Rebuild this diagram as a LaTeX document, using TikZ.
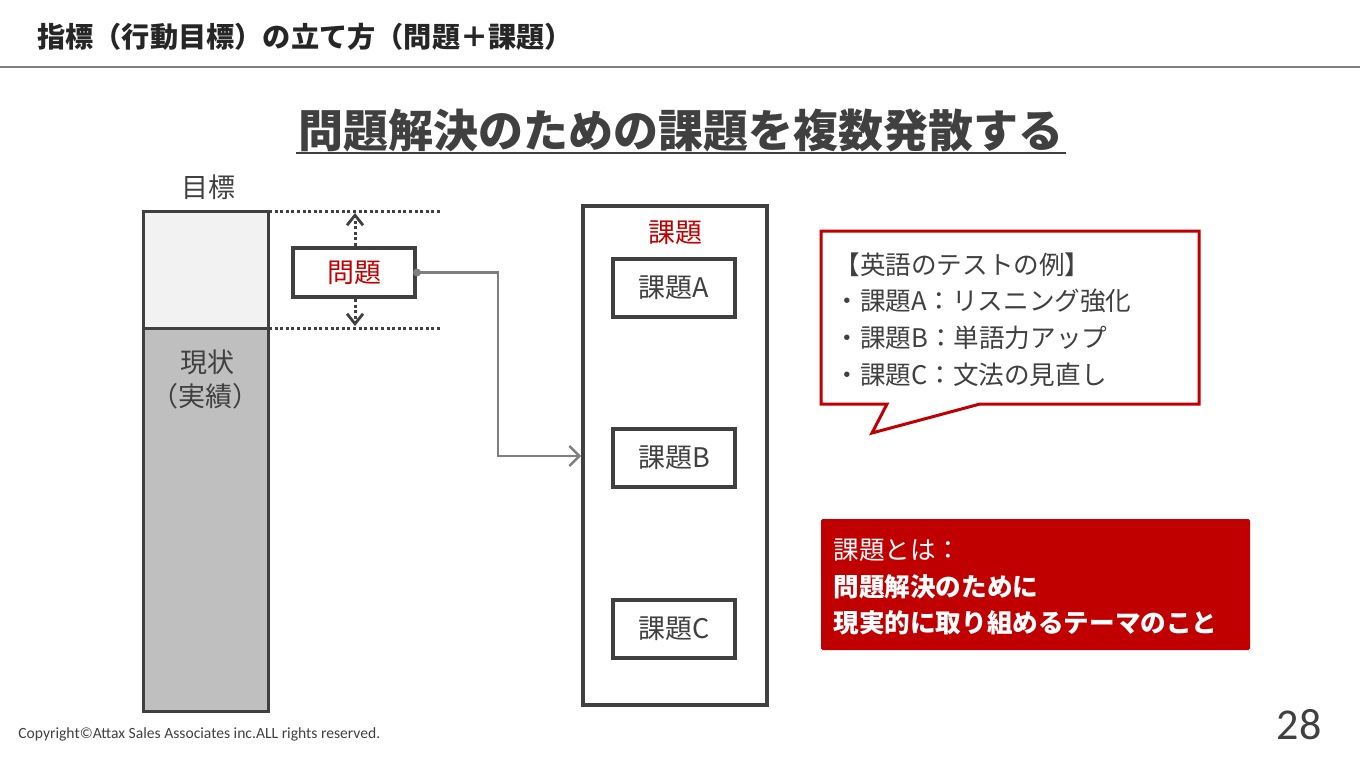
\documentclass[tikz,border=0pt]{standalone}
\usepackage{fontspec}
\setmainfont{Noto Sans CJK JP}
\newfontfamily\cali{Carlito}
\usetikzlibrary{arrows.meta}
\definecolor{dg}{HTML}{404040}
\definecolor{rd}{HTML}{C00000}
\definecolor{cg}{HTML}{7F7F7F}
\definecolor{lf}{HTML}{F2F2F2}
\definecolor{mf}{HTML}{BFBFBF}
\tikzset{
  bx/.style={draw=dg, line width=2pt, fill=white, inner sep=0pt},
  lbl/.style={text=dg, inner sep=0pt, font=\fontsize{13.5}{16}\selectfont},
  btxt/.style={text=dg, inner sep=0pt, anchor=west, font=\fontsize{12.8}{15}\selectfont},
  wtxt/.style={text=white, inner sep=0pt, anchor=west, font=\fontsize{12.8}{15}\selectfont},
  dotl/.style={draw=dg, line width=1.5pt, dash pattern=on 1.5pt off 1.3pt},
  conn/.style={draw=cg, line width=1.3pt, -{Straight Barb[length=5pt,width=10pt,line width=1.3pt]}},
  darr/.style={draw=dg, line width=1.5pt, dash pattern=on 1.5pt off 1.3pt, -{Straight Barb[length=5pt,width=8pt,line width=1.4pt]}}
}
\begin{document}
\begin{tikzpicture}[x=0.5pt,y=-0.5pt]
\useasboundingbox (0,0) rectangle (1360,766);
% header
\node[anchor=west, inner sep=0pt, text=black!85, font=\fontsize{14.1}{16}\selectfont\bfseries] (title) at (37,37) {指標（行動目標）の立て方（問題＋課題）};
\draw[cg, line width=1pt] (0,67) -- (1360,67);
% subtitle
\node[inner sep=0pt, text=dg, font=\fontsize{22.5}{26}\selectfont\bfseries] (sub) at (681,131) {問題解決のための課題を複数発散する};
\draw[dg, line width=1.2pt] (296,153) -- (1066,153);
% bar
\node[lbl] (goal) at (208,187) {目標};
\draw[dg, line width=1.5pt, fill=lf] (143,211) rectangle (268,328);
\draw[dg, line width=1.5pt, fill=mf] (143,328) rectangle (268,711);
\coordinate (bartop) at (269,211);
\coordinate (barmid) at (269,328);
\node[lbl] (now) at (207,362) {現状};
\node[lbl] (perf) at (205,396) {（実績）};
\coordinate (dt) at (442,211);
\coordinate (db) at (442,328);
\draw[dotl] (bartop) -- (dt);
\draw[dotl] (barmid) -- (db);
% problem box
\node[bx, line width=2pt, minimum width=61pt, minimum height=24.5pt, text=rd, font=\fontsize{13.5}{16}\selectfont] (mondai) at (354,272.5) {問題};
\draw[darr] (mondai.north -| 355,0) -- (355,213);
\draw[darr] (mondai.south -| 355,0) -- (355,326);
% big box
\node[bx, line width=1.8pt, minimum width=92pt, minimum height=249.5pt] (big) at (675,455.5) {};
\node[lbl, text=rd] (kadai) at (675,233) {課題};
\node[bx, line width=2pt, minimum width=61pt, minimum height=29pt, text=dg, font=\fontsize{13.5}{16}\selectfont] (ka) at (674,288) {課題A};
\node[bx, line width=2pt, minimum width=61pt, minimum height=29pt, text=dg, font=\fontsize{13.5}{16}\selectfont] (kb) at (674,457.5) {課題B};
\node[bx, line width=2pt, minimum width=61pt, minimum height=29pt, text=dg, font=\fontsize{13.5}{16}\selectfont] (kc) at (674,628.5) {課題C};
% connector
\fill[cg] (mondai.east) circle (4);
\coordinate (bend) at (498,456);
\coordinate (tgt) at (big.west |- bend);
\draw[conn] (mondai.east) -| (bend) -- (tgt);
% speech bubble
\draw[rd, line width=1.5pt, fill=white, line join=miter] (821,231) -- (1199,231) -- (1199,404) -- (980,404) -- (872,433) -- (887,404) -- (821,404) -- cycle;
\node[btxt] (b0) at (834,265) {【英語のテストの例】};
\node[btxt] (b1) at (834,301) {・課題A：リスニング強化};
\node[btxt] (b2) at (834,338) {・課題B：単語力アップ};
\node[btxt] (b3) at (834,375) {・課題C：文法の見直し};
% red box
\node[fill=rd, minimum width=214.5pt, minimum height=65.5pt, inner sep=0pt, rounded corners=0.8pt] (def) at (1035.5,584.5) {};
\node[wtxt] (d1) at (833,550) {課題とは：};
\node[wtxt, font=\fontsize{12.8}{15}\selectfont\bfseries] (d2) at (833,587) {問題解決のために};
\node[wtxt, font=\fontsize{12.8}{15}\selectfont\bfseries] (d3) at (833,623) {現実的に取り組めるテーマのこと};
% footer
\node[anchor=west, inner sep=0pt, text=dg, font=\cali\fontsize{7.8}{9}\selectfont] (copy) at (18,734) {Copyright©Attax Sales Associates inc.ALL rights reserved.};
\node[inner sep=0pt, text=dg, font=\cali\fontsize{22}{25}\selectfont] (page) at (1299,725) {28};
\end{tikzpicture}
\end{document}
